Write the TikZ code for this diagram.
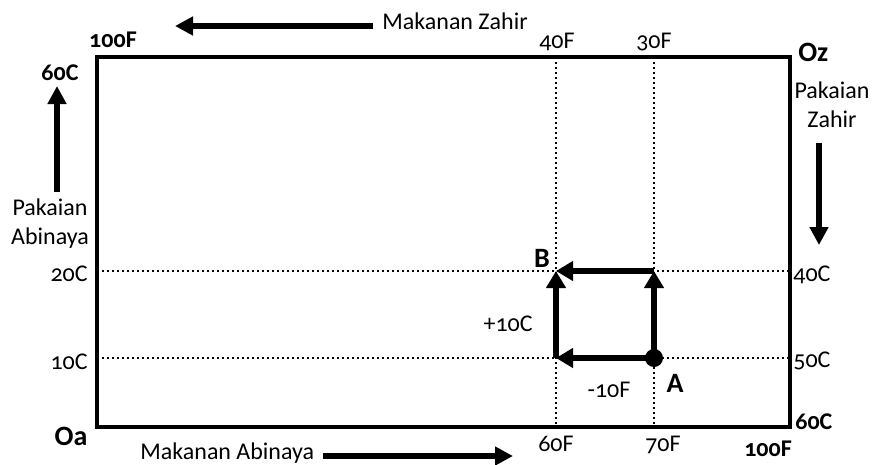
\documentclass[tikz,border=0pt]{standalone}
\usepackage{fontspec}
\setmainfont{Carlito}[Numbers=OldStyle]
\usetikzlibrary{arrows.meta}

\tikzset{every picture/.style={line width=0.75pt}}
\tikzset{
  lbl/.style={inner sep=0pt, font=\fontsize{24}{29}\selectfont},
  blbl/.style={inner sep=0pt, font=\fontsize{24}{29}\selectfont\bfseries},
  ptlbl/.style={inner sep=0pt, font=\fontsize{28}{32}\selectfont\bfseries},
  gridline/.style={line width=2pt, dash pattern=on 2pt off 3pt},
  moveline/.style={line width=6pt, -{Triangle[length=17pt,width=19pt]}},
  dirline/.style={line width=6pt, -{Triangle[length=18pt,width=18pt]}},
}

\begin{document}
\begin{tikzpicture}[x=1pt,y=1pt,yscale=-1,xscale=1]
\useasboundingbox (0,0) rectangle (875,464);

%Shape: Rectangle
\coordinate (Oa) at (97,427);
\coordinate (Oz) at (790,57);
\draw [line width=4pt] (Oa) rectangle (Oz);

%Dotted Lines
\coordinate (f40) at (556,57);  \coordinate (f60) at (556,427);
\coordinate (f30) at (654,57);  \coordinate (f70) at (654,427);
\coordinate (c20) at (97,271);  \coordinate (c40) at (790,271);
\coordinate (c10) at (97,358);  \coordinate (c50) at (790,358);
\draw [gridline] (f40) -- (f60);
\draw [gridline] (f30) -- (f70);
\draw [gridline] (c20) -- (c40);
\draw [gridline] (c10) -- (c50);

%Straight Lines
\coordinate (A) at (654,358);
\coordinate (P) at (654,271);
\coordinate (B) at (556,271);
\coordinate (Q) at (556,358);
\draw [moveline] (A) -- (P);
\draw [moveline] (P) -- (B);
\draw [moveline] (A) -- (Q);
\draw [moveline] (Q) -- (B);
%Shape: Circle
\fill (A) circle (9);

%Straight Lines
\coordinate (mz1) at (373,26);  \coordinate (mz2) at (175,26);
\coordinate (pa1) at (57,192);  \coordinate (pa2) at (57,86);
\coordinate (pz1) at (819,143); \coordinate (pz2) at (819,245);
\coordinate (ma1) at (323,456); \coordinate (ma2) at (513,456);
\draw [dirline] (mz1) -- (mz2);
\draw [dirline] (pa1) -- (pa2);
\draw [dirline] (pz1) -- (pz2);
\draw [dirline] (ma1) -- (ma2);

% Text Node
\draw (382,29) node (mzl) [anchor=base west][lbl] {Makanan Zahir};
% Text Node
\draw (113,47) node (ftl) [anchor=base][blbl] {100F};
% Text Node
\draw (60,80) node (ctl) [anchor=base][blbl] {60C};
% Text Node
\draw (50,244) node (pal) [anchor=base][lbl][align=center] {Pakaian\\Abinaya};
% Text Node
\draw (88,281) node (t20) [anchor=base east][lbl] {20C};
% Text Node
\draw (88,369) node (t10) [anchor=base east][lbl] {10C};
% Text Node
\draw (557,48) node (t40f) [anchor=base][lbl] {40F};
% Text Node
\draw (654,48) node (t30f) [anchor=base][lbl] {30F};
% Text Node
\draw (798,61) node (ozl) [anchor=base west][ptlbl] {Oz};
% Text Node
\draw (832,127) node (pzl) [anchor=base][lbl][align=center] {Pakaian\\Zahir};
% Text Node
\draw (793,281) node (t40c) [anchor=base west][lbl] {40C};
% Text Node
\draw (793,367) node (t50c) [anchor=base west][lbl] {50C};
% Text Node
\draw (795,429) node (cbr) [anchor=base west][blbl] {60C};
% Text Node
\draw (768,456) node (fbr) [anchor=base][blbl] {100F};
% Text Node
\draw (663,451) node (t70f) [anchor=base][lbl] {70F};
% Text Node
\draw (556,451) node (t60f) [anchor=base][lbl] {60F};
% Text Node
\draw (71,445) node (oal) [anchor=base][ptlbl] {Oa};
% Text Node
\draw (140,459) node (mal) [anchor=base west][lbl] {Makanan Abinaya};
% Text Node
\draw (542,267) node (bl) [anchor=base][ptlbl] {B};
% Text Node
\draw (675,392) node (al) [anchor=base][ptlbl] {A};
% Text Node
\draw (533,331) node (dc) [anchor=base east][lbl] {+10C};
% Text Node
\draw (609,397) node (df) [anchor=base][lbl] {-10F};

\end{tikzpicture}
\end{document}
